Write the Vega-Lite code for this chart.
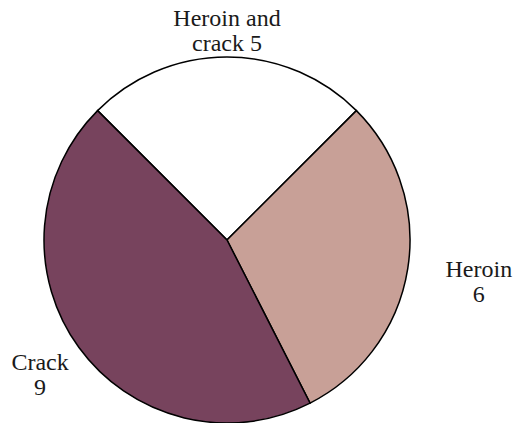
{
  "$schema": "https://vega.github.io/schema/vega-lite/v6.json",
  "autosize": {"type": "none"},
  "padding": {"left": 0, "top": 57, "right": 64, "bottom": 0},
  "width": 454,
  "height": 366,
  "background": "white",
  "view": {"stroke": null},
  "data": {
    "values": [
      {"category": "Heroin and crack", "label": "Heroin and\ncrack 5", "value": 5, "order": 1},
      {"category": "Heroin", "label": "Heroin\n6", "value": 6, "order": 2},
      {"category": "Crack", "label": "Crack\n9", "value": 9, "order": 3}
    ]
  },
  "encoding": {
    "theta": {"field": "value", "type": "quantitative", "stack": true, "scale": {"range": [-0.7854, 5.4978]}},
    "order": {"field": "order", "type": "quantitative"}
  },
  "layer": [
    {
      "mark": {"type": "arc", "stroke": "black", "strokeWidth": 1.5},
      "encoding": {
        "color": {
          "field": "category",
          "type": "nominal",
          "scale": {"domain": ["Heroin and crack", "Heroin", "Crack"], "range": ["#ffffff", "#c8a097", "#77435d"]},
          "legend": null
        }
      }
    },
    {
      "mark": {"type": "text", "radius": 209, "dy": -12, "font": "Liberation Serif", "fontSize": 24, "lineBreak": "\n", "lineHeight": 25, "align": "center", "baseline": "middle", "color": "#1a1a1a"},
      "encoding": {
        "text": {"condition": {"test": "datum.category === 'Heroin and crack'", "field": "label"}, "value": ""}
      }
    },
    {
      "mark": {"type": "text", "radius": 255, "dy": -10, "font": "Liberation Serif", "fontSize": 24, "lineBreak": "\n", "lineHeight": 25, "align": "center", "baseline": "middle", "color": "#1a1a1a"},
      "encoding": {
        "text": {"condition": {"test": "datum.category === 'Heroin'", "field": "label"}, "value": ""}
      }
    },
    {
      "mark": {"type": "text", "radius": 231, "dy": -13, "font": "Liberation Serif", "fontSize": 24, "lineBreak": "\n", "lineHeight": 25, "align": "center", "baseline": "middle", "color": "#1a1a1a"},
      "encoding": {
        "text": {"condition": {"test": "datum.category === 'Crack'", "field": "label"}, "value": ""}
      }
    }
  ]
}
